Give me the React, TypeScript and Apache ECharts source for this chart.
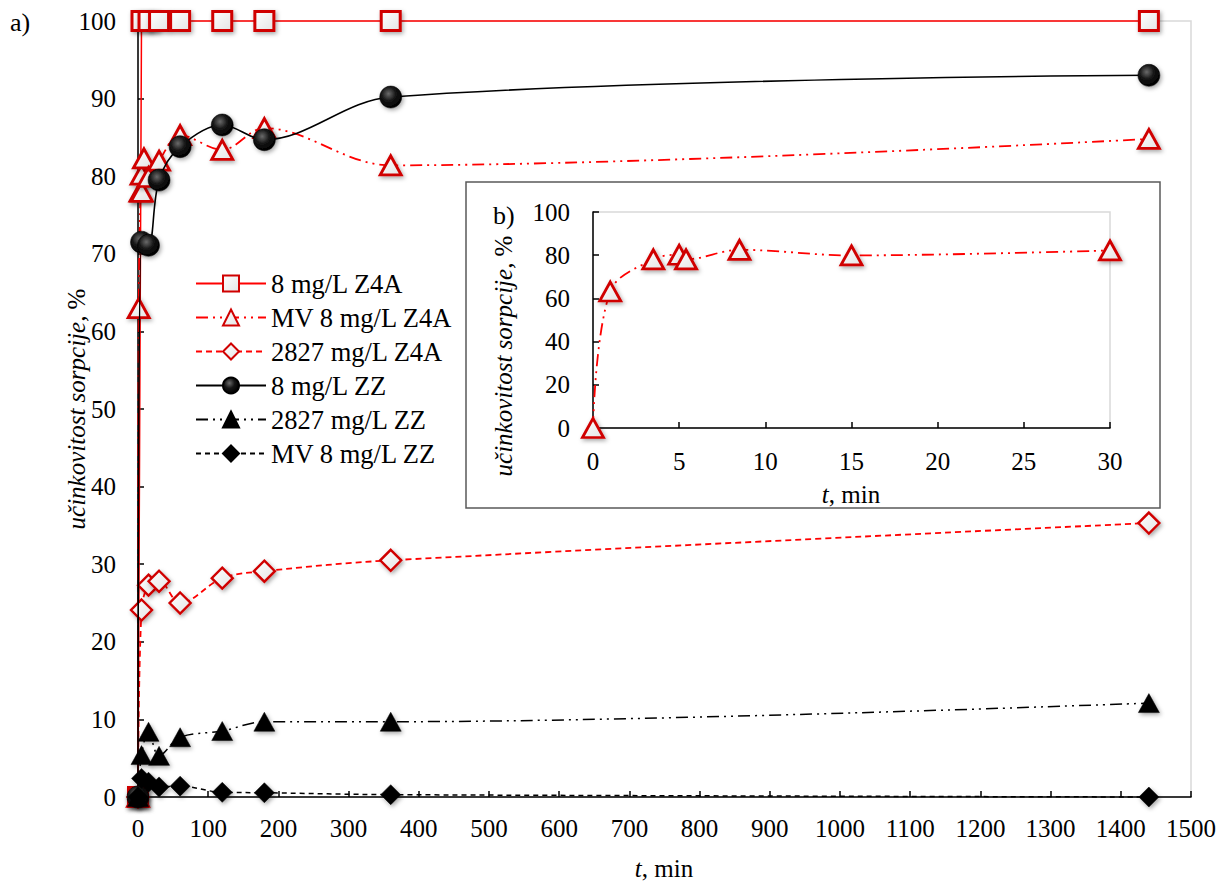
import React, { useEffect, useRef } from "react";
import * as echarts from "echarts";

// time points (min)
const tStd = [0, 5, 15, 30, 60, 120, 180, 360, 1440];
const tMV = [0, 1, 3.5, 5, 5.4, 8.5, 15, 30, 60, 120, 180, 360, 1440];
const tInset = [0, 1, 3.5, 5, 5.4, 8.5, 15, 30];

// sorption efficiency (%)
const z4a8 = [0, 100, 100, 100, 100, 100, 100, 100, 100];
const mvZ4a8 = [0, 63.0, 78.0, 80.2, 78.0, 82.3, 79.9, 82.0, 85.3, 83.4, 86.2, 81.4, 84.8];
const z4a2827 = [0, 24.1, 27.3, 27.8, 25.0, 28.2, 29.1, 30.5, 35.3];
const zz8 = [0, 71.5, 71.1, 79.5, 83.8, 86.6, 84.7, 90.2, 93.0];
const zz2827 = [0, 5.4, 8.4, 5.3, 7.7, 8.5, 9.7, 9.7, 12.1];
const mvZz8 = [0, 2.4, 1.9, 1.3, 1.4, 0.6, 0.55, 0.3, 0];
const mvInset = [0, 63.2, 78.1, 80.2, 78.1, 82.5, 79.9, 82.2];

const seriesNames = [
  "8 mg/L Z4A",
  "MV 8 mg/L Z4A",
  "2827 mg/L Z4A",
  "8 mg/L ZZ",
  "2827 mg/L ZZ",
  "MV 8 mg/L ZZ",
];

const yTitle = "{i|učinkovitost sorpcije,} %";
const xTitle = "{i|t}, min";

const mainXTicks = { min: 0, max: 1500, interval: 100 };
const mainYTicks = { min: 0, max: 100, interval: 10 };
const insetXTicks = { min: 0, max: 30, interval: 5 };
const insetYTicks = { min: 0, max: 100, interval: 20 };

const FONT = "Liberation Serif";
const RED = "#ff0000";
const MRED = "#d00000";

const zip = (xs: number[], ys: number[]) => xs.map((x, i) => [x, ys[i]]);

export default function App() {
  const ref = useRef<HTMLDivElement>(null);

  useEffect(() => {
    if (!ref.current) return;
    const chart = echarts.init(ref.current, undefined, { renderer: "svg" });

    const shadow = {
      shadowBlur: 4,
      shadowColor: "rgba(0,0,0,0.35)",
      shadowOffsetX: 1.5,
      shadowOffsetY: 2,
    };
    const whiteFill = new echarts.graphic.LinearGradient(0, 0, 1, 1, [
      { offset: 0, color: "#ffffff" },
      { offset: 1, color: "#e4e4e4" },
    ]);
    const blackBall = new echarts.graphic.RadialGradient(0.4, 0.35, 0.65, [
      { offset: 0, color: "#6a6a6a" },
      { offset: 0.5, color: "#151515" },
      { offset: 1, color: "#000000" },
    ]);

    const fmt = (v: number) => String(v);
    const axisLabel = { color: "#000", fontFamily: FONT, fontSize: 25, formatter: fmt };
    const axisLine = { show: true, onZero: false, lineStyle: { color: "#000", width: 1.5 } };
    const axisTick = { show: true, inside: true, length: 6, lineStyle: { color: "#000", width: 1.5 } };
    const rich = { i: { fontStyle: "italic", fontFamily: FONT, fontSize: 25, color: "#000" } };

    const titleText = (x: number, y: number, text: string, rotated: boolean) => ({
      type: "text",
      x,
      y,
      rotation: rotated ? Math.PI / 2 : 0,
      style: {
        text,
        rich,
        fontFamily: FONT,
        fontSize: 25,
        fill: "#000",
        align: "center",
        verticalAlign: "middle",
      },
    });

    const option: any = {
      animation: false,
      backgroundColor: "#fff",
      textStyle: { fontFamily: FONT },
      grid: [
        {
          left: 138,
          top: 21,
          width: 1053,
          height: 776,
          show: true,
          borderColor: "#d9d9d9",
          borderWidth: 1.5,
          backgroundColor: "transparent",
        },
        {
          left: 593,
          top: 212,
          width: 517,
          height: 216,
          show: true,
          borderColor: "#d9d9d9",
          borderWidth: 1.5,
          backgroundColor: "transparent",
        },
      ],
      xAxis: [
        {
          type: "value",
          gridIndex: 0,
          ...mainXTicks,
          axisLine,
          axisTick,
          splitLine: { show: false },
          axisLabel: { ...axisLabel, margin: 19 },
        },
        {
          type: "value",
          gridIndex: 1,
          ...insetXTicks,
          axisLine,
          axisTick,
          splitLine: { show: false },
          axisLabel: { ...axisLabel, margin: 21 },
        },
      ],
      yAxis: [
        {
          type: "value",
          gridIndex: 0,
          ...mainYTicks,
          axisLine,
          axisTick,
          splitLine: { show: false },
          axisLabel: { ...axisLabel, margin: 22 },
        },
        {
          type: "value",
          gridIndex: 1,
          ...insetYTicks,
          axisLine,
          axisTick,
          splitLine: { show: false },
          axisLabel: { ...axisLabel, margin: 23 },
        },
      ],
      legend: {
        data: seriesNames,
        orient: "vertical",
        left: 190,
        top: 265,
        itemWidth: 70,
        itemHeight: 20,
        itemGap: 7,
        textStyle: { color: "#000", fontFamily: FONT, fontSize: 26.5 },
      },
      graphic: [
        {
          type: "rect",
          shape: { x: 466, y: 182, width: 694, height: 326 },
          style: { fill: "rgba(0,0,0,0)", stroke: "#595959", lineWidth: 1.5 },
        },
        {
          type: "text",
          x: 10,
          y: 9,
          style: { text: "a)", font: `26px ${FONT}`, fill: "#000" },
        },
        {
          type: "text",
          x: 493,
          y: 202,
          style: { text: "b)", font: `26px ${FONT}`, fill: "#000" },
        },
        titleText(76, 409, yTitle, true),
        titleText(664, 868, xTitle, false),
        titleText(503, 356, yTitle, true),
        titleText(851, 494, xTitle, false),
      ],
      series: [
        {
          name: seriesNames[0],
          type: "line",
          xAxisIndex: 0,
          yAxisIndex: 0,
          data: zip(tStd, z4a8),
          clip: false,
          symbol: "rect",
          symbolSize: 19,
          lineStyle: { color: RED, width: 1.5 },
          itemStyle: { color: whiteFill, borderColor: MRED, borderWidth: 3, ...shadow },
          z: 3,
        },
        {
          name: seriesNames[1],
          type: "line",
          xAxisIndex: 0,
          yAxisIndex: 0,
          data: zip(tMV, mvZ4a8),
          clip: false,
          smooth: 0.35,
          symbol: "triangle",
          symbolSize: [21, 19],
          lineStyle: { color: RED, width: 1.8, type: [12, 5, 2, 5, 2, 5] },
          itemStyle: { color: whiteFill, borderColor: MRED, borderWidth: 2.8, ...shadow },
          z: 4,
        },
        {
          name: seriesNames[2],
          type: "line",
          xAxisIndex: 0,
          yAxisIndex: 0,
          data: zip(tStd, z4a2827),
          clip: false,
          smooth: 0.35,
          symbol: "diamond",
          symbolSize: [21, 21],
          lineStyle: { color: RED, width: 1.8, type: [6, 4] },
          itemStyle: { color: whiteFill, borderColor: MRED, borderWidth: 2.4, ...shadow },
          z: 4,
        },
        {
          name: seriesNames[3],
          type: "line",
          xAxisIndex: 0,
          yAxisIndex: 0,
          data: zip(tStd, zz8),
          clip: false,
          smooth: 0.35,
          symbol: "circle",
          symbolSize: 22,
          lineStyle: { color: "#000", width: 1.6 },
          itemStyle: { color: blackBall, borderColor: "#000", borderWidth: 0.5, ...shadow },
          z: 5,
        },
        {
          name: seriesNames[4],
          type: "line",
          xAxisIndex: 0,
          yAxisIndex: 0,
          data: zip(tStd, zz2827),
          clip: false,
          smooth: 0.35,
          symbol: "triangle",
          symbolSize: [21, 19],
          lineStyle: { color: "#000", width: 1.5, type: [12, 5, 2, 5, 2, 5] },
          itemStyle: { color: "#000", borderColor: "#000", borderWidth: 0.5, ...shadow },
          z: 5,
        },
        {
          name: seriesNames[5],
          type: "line",
          xAxisIndex: 0,
          yAxisIndex: 0,
          data: zip(tStd, mvZz8),
          clip: false,
          smooth: 0.35,
          symbol: "diamond",
          symbolSize: [20, 20],
          lineStyle: { color: "#000", width: 1.5, type: [5, 4] },
          itemStyle: { color: "#000", borderColor: "#000", borderWidth: 0.5, ...shadow },
          z: 5,
        },
        {
          name: "inset",
          type: "line",
          xAxisIndex: 1,
          yAxisIndex: 1,
          data: zip(tInset, mvInset),
          clip: false,
          smooth: 0.35,
          symbol: "triangle",
          symbolSize: [21, 19],
          lineStyle: { color: RED, width: 1.8, type: [12, 5, 2, 5, 2, 5] },
          itemStyle: { color: whiteFill, borderColor: MRED, borderWidth: 2.8, ...shadow },
          z: 4,
        },
      ],
    };

    chart.setOption(option);
    return () => chart.dispose();
  }, []);

  return (
    <div
      ref={ref}
      style={{ position: "absolute", left: 0, top: 0, width: 1230, height: 881, background: "#fff" }}
    />
  );
}
